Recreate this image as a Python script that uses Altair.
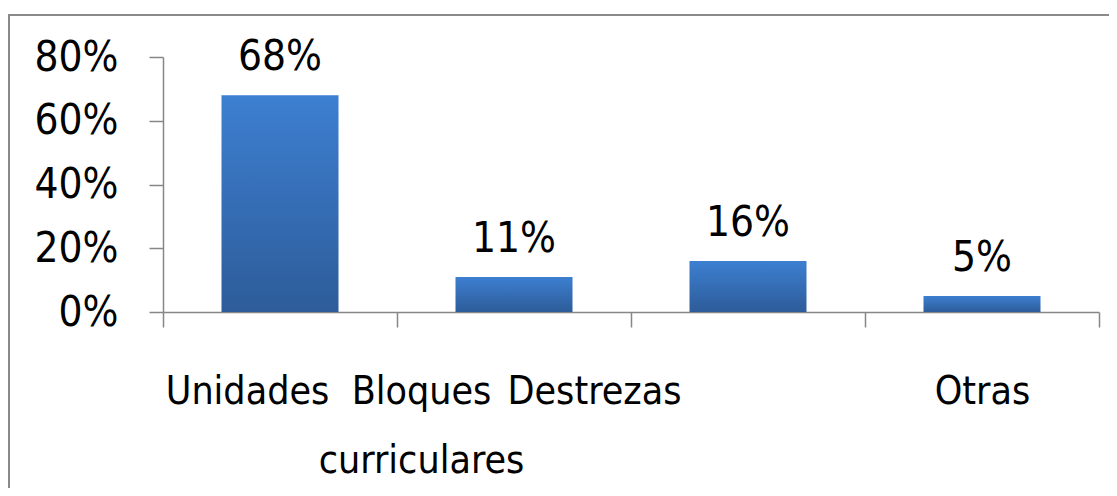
import altair as alt
import pandas as pd

categories = ["Unidades", "Bloques curriculares", "Destrezas", "Otras"]
values = [0.68, 0.11, 0.16, 0.05]
value_labels = ["68%", "11%", "16%", "5%"]
y_ticks = [0, 0.2, 0.4, 0.6, 0.8]

df = pd.DataFrame({"cat": categories, "val": values, "lab": value_labels})

FONT = "Liberation Sans Narrow, DejaVu Sans Condensed, Lato, sans-serif"
GRAY = "#878787"

x_enc = alt.X(
    "cat:N",
    sort=categories,
    scale=alt.Scale(paddingInner=0, paddingOuter=0),
    axis=alt.Axis(
        title=None,
        labelAngle=0,
        tickBand="extent",
        tickSize=15,
        tickColor=GRAY,
        tickWidth=1.5,
        domainColor=GRAY,
        domainWidth=1.5,
        labelFont=FONT,
        labelFontSize=39,
        labelColor="black",
        labelBaseline="alphabetic",
        labelPadding=76,
        labelLineHeight=69,
        labelLimit=400,
        labelExpr="datum.value == 'Bloques curriculares' ? ['Bloques', 'curriculares'] : datum.value",
        labelOffset={
            "condition": [
                {"test": "datum.value == 'Unidades'", "value": -33},
                {"test": "datum.value == 'Bloques curriculares'", "value": -93},
                {"test": "datum.value == 'Destrezas'", "value": -154},
            ],
            "value": 0,
        },
    ),
)

y_enc = alt.Y(
    "val:Q",
    scale=alt.Scale(domain=[0, 0.8], nice=False),
    axis=alt.Axis(
        title=None,
        values=y_ticks,
        format=".0%",
        grid=False,
        tickSize=14,
        tickColor=GRAY,
        tickWidth=1.5,
        domainColor=GRAY,
        domainWidth=1.5,
        labelFont=FONT,
        labelFontSize=42,
        labelColor="black",
        labelPadding=31,
    ),
)

gradient = alt.Gradient(
    gradient="linear",
    stops=[
        alt.GradientStop(color="#3d7fd1", offset=0),
        alt.GradientStop(color="#2d5c99", offset=1),
    ],
    x1=0, x2=0, y1=0, y2=1,
)

bars = alt.Chart(df).mark_bar(
    color=gradient, width=alt.RelativeBandSize(0.5)
).encode(x=x_enc, y=y_enc)

texts = alt.Chart(df).mark_text(
    font=FONT, fontSize=42, color="black", baseline="alphabetic", dy=-25
).encode(x=alt.X("cat:N", sort=categories), y="val:Q", text="lab:N")

border_left = alt.Chart(df).mark_rule(stroke="#8a8a8a", strokeWidth=2).encode(
    x=alt.value(-154), y=alt.value(-42), y2=alt.value(600)
)
border_top = alt.Chart(df).mark_rule(stroke="#8a8a8a", strokeWidth=2).encode(
    x=alt.value(-155), x2=alt.value(1200), y=alt.value(-42)
)

chart = alt.layer(border_left, border_top, bars, texts).properties(
    width=936, height=255,
    autosize=alt.AutoSizeParams(type="none"),
    padding={"left": 155, "top": 49, "right": 10, "bottom": 176},
).configure_view(stroke=None)

chart.save("out.html", embed_options={"renderer": "svg", "actions": False})
